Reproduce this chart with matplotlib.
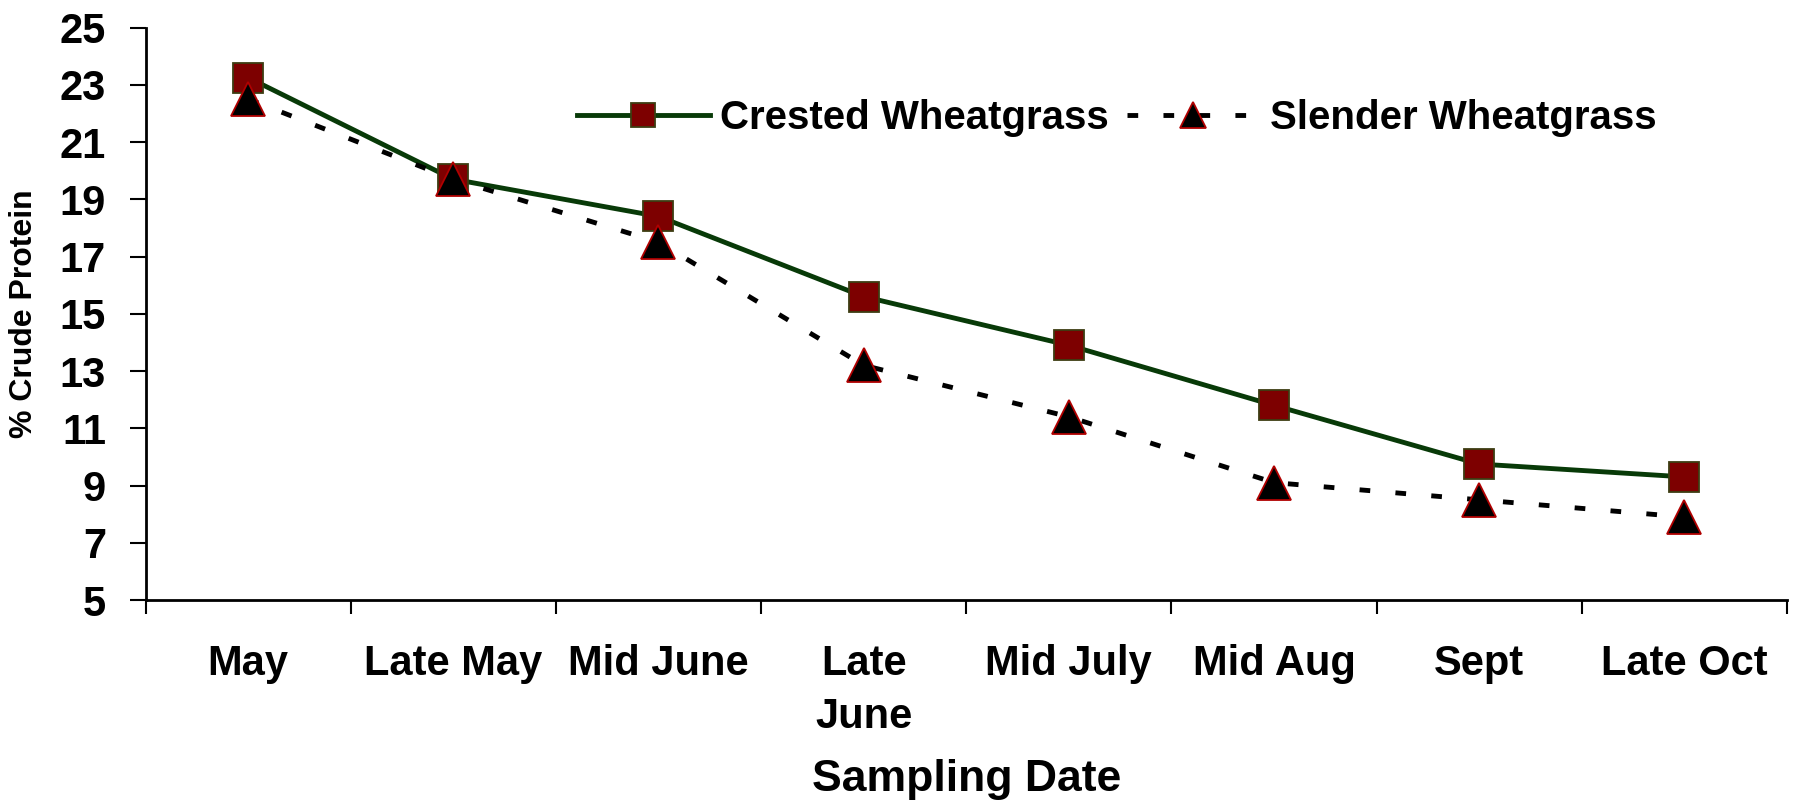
import matplotlib
matplotlib.use("Agg")
import matplotlib.pyplot as plt
from matplotlib.ticker import FixedLocator, NullFormatter

plt.rcParams['font.family'] = ['Liberation Sans', 'DejaVu Sans']

dates = ["May", "Late May", "Mid June", "Late\nJune", "Mid July", "Mid Aug", "Sept", "Late Oct"]
crested = [23.25, 19.7, 18.4, 15.6, 13.9, 11.8, 9.75, 9.3]
slender = [22.5, 19.7, 17.5, 13.2, 11.4, 9.1, 8.5, 7.9]

W, H = 1796, 801
fig = plt.figure(figsize=(W / 100, H / 100), dpi=100)
ax = fig.add_axes([145.5 / W, 1 - 600 / H, (1787 - 145.5) / W, (600 - 27.5) / H])

x = list(range(len(dates)))
ax.plot(x, crested, color='#083a08', lw=3.5, marker='s', markersize=22,
        markerfacecolor='#7d0000', markeredgecolor='#3d3d12', markeredgewidth=1.3,
        label='Crested Wheatgrass', zorder=3)
ax.plot(x, slender, color='black', lw=3.5, linestyle=(0, (2.2, 5.2)), marker='^',
        markersize=24, markerfacecolor='black', markeredgecolor='#b00000',
        markeredgewidth=1.3, label='Slender Wheatgrass', zorder=4)

ax.set_xlim(-0.5, len(dates) - 0.5)
ax.set_ylim(5, 25)
ax.set_yticks(range(5, 26, 2))
ax.tick_params(axis='y', labelsize=30, length=11.5, width=1.5, pad=17)
for lbl in ax.get_yticklabels():
    lbl.set_fontweight('bold')

# tick marks on the category boundaries, labels at the category centres
ax.xaxis.set_major_locator(FixedLocator([i - 0.5 for i in range(len(dates) + 1)]))
ax.xaxis.set_major_formatter(NullFormatter())
ax.xaxis.set_minor_locator(FixedLocator(x))
ax.set_xticklabels(dates, minor=True)
ax.tick_params(axis='x', which='major', length=10, width=1.5)
ax.tick_params(axis='x', which='minor', length=0, labelsize=30, pad=32)
for lbl in ax.get_xticklabels(minor=True):
    lbl.set_fontweight('bold')
    lbl.set_linespacing(1.42)
    lbl.set_verticalalignment('top')

for side in ('top', 'right'):
    ax.spines[side].set_visible(False)
for side in ('left', 'bottom'):
    ax.spines[side].set_linewidth(2)

ax.set_ylabel('% Crude Protein', fontsize=23, fontweight='bold')
ax.yaxis.set_label_coords((24 - 145.5) / (1787 - 145.5), 0.5)
ax.yaxis.label.set_verticalalignment('center')

ax.set_xlabel('Sampling Date', fontsize=32, fontweight='bold')
ax.xaxis.set_label_coords(0.5, (600 - 779) / (600 - 27.5))
ax.xaxis.label.set_verticalalignment('center')

fig.legend(*ax.get_legend_handles_labels(), loc='center left',
           bbox_to_anchor=(577 / W, 1 - 118 / H), ncol=2, frameon=False,
           prop={'size': 29, 'weight': 'bold'}, markerscale=0.78,
           handlelength=3.3, columnspacing=0.45, handletextpad=0.25,
           borderpad=0, borderaxespad=0)

fig.savefig('out.png', dpi=100)
